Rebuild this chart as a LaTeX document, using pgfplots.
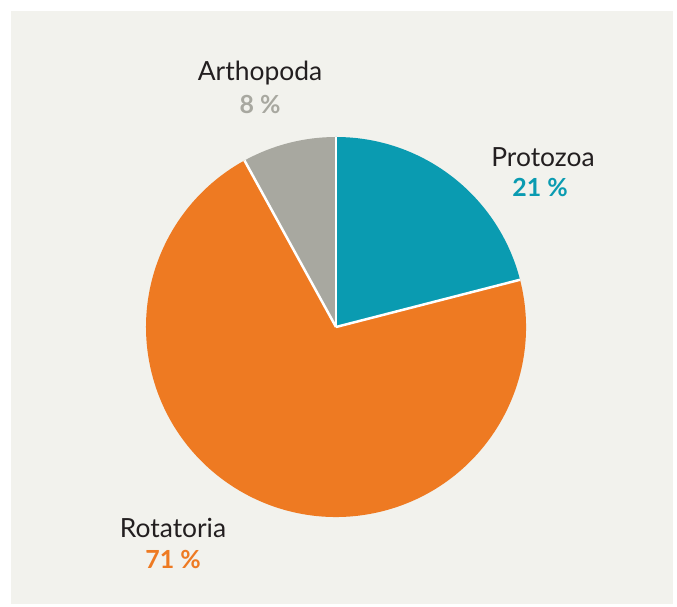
\documentclass[border=0pt]{standalone}
\usepackage{pgfplots}
\pgfplotsset{compat=1.18}
\usepackage{fontspec}
\setmainfont{Lato}
\definecolor{bgpanel}{HTML}{F2F2ED}
\definecolor{cProto}{HTML}{0A9BB1}
\definecolor{cRota}{HTML}{EE7A22}
\definecolor{cArth}{HTML}{A8A8A0}
\definecolor{txt}{HTML}{231F20}
% data (percent)
\def\vProto{21}
\def\vRota{71}
\def\vArth{8}
\def\cx{336}
\def\cy{280}
\def\rr{190bp}
\pgfmathsetmacro{\aA}{90}
\pgfmathsetmacro{\aB}{\aA-\vProto*3.6}
\pgfmathsetmacro{\aC}{\aB-\vRota*3.6}
\pgfmathsetmacro{\aD}{\aC-\vArth*3.6}
\begin{document}
\begin{tikzpicture}
\begin{axis}[scale only axis, width=677bp, height=607bp,
  xmin=0, xmax=677, ymin=0, ymax=607, hide axis, clip=false]
\fill[white] (axis cs:0,0) rectangle (axis cs:677,607);
\fill[bgpanel] (axis cs:11,3) rectangle (axis cs:673,596);
\fill[cProto] (axis cs:\cx,\cy) -- ++(\aA:\rr) arc[start angle=\aA, end angle=\aB, radius=\rr] -- cycle;
\fill[cRota] (axis cs:\cx,\cy) -- ++(\aB:\rr) arc[start angle=\aB, end angle=\aC, radius=\rr] -- cycle;
\fill[cArth] (axis cs:\cx,\cy) -- ++(\aC:\rr) arc[start angle=\aC, end angle=\aD, radius=\rr] -- cycle;
\draw[white, line width=2.5bp] (axis cs:\cx,\cy) -- ++(\aA:\rr);
\draw[white, line width=2.5bp] (axis cs:\cx,\cy) -- ++(\aB:\rr);
\draw[white, line width=2.5bp] (axis cs:\cx,\cy) -- ++(\aC:\rr);
\node[txt, font=\fontsize{26.5}{30}\selectfont] at (axis cs:260,534) {Arthopoda};
\node[cArth, font=\fontsize{25}{30}\selectfont\bfseries] at (axis cs:260,502) {8 \%};
\node[txt, font=\fontsize{26.5}{30}\selectfont] at (axis cs:543,450) {Protozoa};
\node[cProto, font=\fontsize{25}{30}\selectfont\bfseries] at (axis cs:540,419) {21 \%};
\node[txt, font=\fontsize{26.5}{30}\selectfont] at (axis cs:173,79) {Rotatoria};
\node[cRota, font=\fontsize{25}{30}\selectfont\bfseries] at (axis cs:173,47) {71 \%};
\end{axis}
\end{tikzpicture}
\end{document}
